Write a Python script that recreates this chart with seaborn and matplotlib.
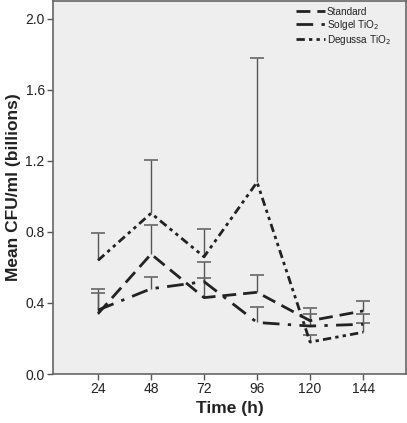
import matplotlib
matplotlib.use("Agg")
import matplotlib.pyplot as plt
from matplotlib.lines import Line2D
import seaborn as sns
import pandas as pd
import numpy as np

times = ["24", "48", "72", "96", "120", "144"]
standard = [0.34, 0.675, 0.43, 0.46, 0.30, 0.355]
standard_upper = [0.48, 0.84, 0.63, 0.56, 0.37, 0.41]
solgel = [0.36, 0.48, 0.52, 0.29, 0.27, 0.28]
solgel_upper = [0.455, 0.545, 0.54, 0.375, 0.34, 0.34]
degussa = [0.64, 0.905, 0.66, 1.08, 0.18, 0.235]
degussa_upper = [0.795, 1.205, 0.815, 1.78, 0.22, 0.285]
y_ticks = [0.0, 0.4, 0.8, 1.2, 1.6, 2.0]

sns.set_theme(style="white")
plt.rcParams['font.family'] = ['Liberation Sans', 'DejaVu Sans']

fig = plt.figure(figsize=(4.07, 4.23), dpi=100)
ax = fig.add_axes([53/407, 1-374/423, (406-53)/407, 373/423])
ax.set_facecolor("#eeeeee")

series = [
    ("Standard", standard, standard_upper, (5, 2.5)),
    ("Solgel TiO$_2$", solgel, solgel_upper, (6, 3, 1.2, 3)),
    ("Degussa TiO$_2$", degussa, degussa_upper, (3, 1.5, 1.2, 1.5, 1.2, 1.5)),
]
pos = np.arange(len(times))
rows = []
for name, vals, up, ls in series:
    for p, v, u in zip(pos, vals, up):
        rows.append({"pos": p, "value": v, "upper": u, "series": name})
df = pd.DataFrame(rows)

handles = []
for name, vals, up, dashes in series:
    sub = df[df["series"] == name]
    ax.vlines(sub["pos"], sub["value"], sub["upper"], color="#555555", linewidth=1.0, zorder=2)
    ax.plot(sub["pos"], sub["upper"], linestyle="none", marker="_", markersize=9.5,
            markeredgewidth=1.2, color="#666666", zorder=2)
    sns.lineplot(data=sub, x="pos", y="value", ax=ax, color="#222222",
                 linewidth=2.0, legend=False, zorder=3)
    ax.lines[-1].set_dashes(dashes)
    handles.append(Line2D([], [], color="#222222", linewidth=2.0, dashes=dashes, label=name))

ax.set_xlim(-0.85, 5.81)
ax.set_ylim(0, 2.10)
ax.set_xticks(pos)
ax.set_xticklabels(times)
ax.set_yticks(y_ticks)
ax.set_yticklabels([f"{t:.1f}" for t in y_ticks])
ax.set_xlabel("")
ax.set_ylabel("")
ax.tick_params(axis="both", direction="out", length=4, width=1, color="#555555",
               labelsize=10, labelcolor="#222222", pad=2, left=True, bottom=True)
for s in ax.spines.values():
    s.set_visible(True)
    s.set_color("#666666")
    s.set_linewidth(1.2)

ax.set_xlabel("Time (h)", fontsize=12.5, fontweight="bold", color="#222222", labelpad=3)
ax.set_ylabel("Mean CFU/ml (billions)", fontsize=12.5, fontweight="bold", color="#222222", labelpad=3)

leg = ax.legend(handles=handles, loc="upper right", frameon=False, fontsize=7.2,
                handlelength=2.9, handletextpad=0.25, labelspacing=0.08, borderaxespad=0.2,
                bbox_to_anchor=(0.975, 1.0))
for t in leg.get_texts():
    t.set_color("#222222")

fig.savefig("out.png", dpi=100, facecolor="white")
